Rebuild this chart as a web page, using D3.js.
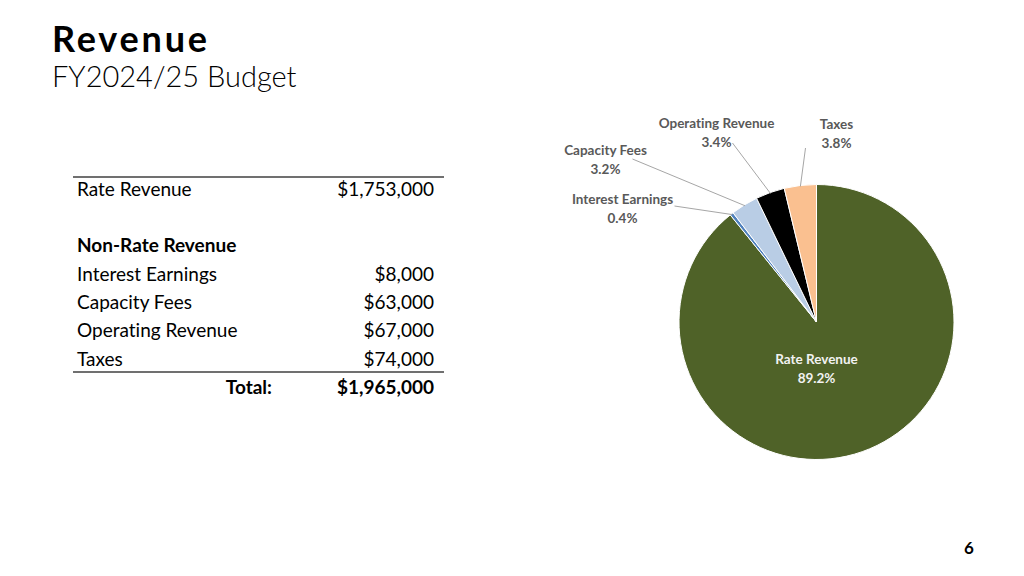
<!DOCTYPE html>
<html>
<head>
<meta charset="utf-8">
<script src="https://cdn.jsdelivr.net/npm/d3@7"></script>
<style>
  body { margin: 0; background: #fff; }
  svg { display: block; }
  text { font-variant-ligatures: none; font-feature-settings: "liga" 0; }
</style>
</head>
<body>
<svg id="chart"></svg>
<script>
// revenue categories in pie order (clockwise from 12 o'clock)
const categories = ["Rate Revenue", "Interest Earnings", "Capacity Fees", "Operating Revenue", "Taxes"];
const amounts = [1753000, 8000, 63000, 67000, 74000];
const colors = ["#4f6228", "#4f81bd", "#b9cde5", "#000000", "#fac090"];

// table rows
const nonRateCategories = ["Interest Earnings", "Capacity Fees", "Operating Revenue", "Taxes"];
const totalAmount = 1965000;

const width = 1024, height = 576;
const fontBody = "Lato, 'Open Sans', sans-serif";

const svg = d3.select("#chart")
    .attr("width", width)
    .attr("height", height);

// title
svg.append("text")
    .attr("x", 52).attr("y", 52)
    .attr("font-family", fontBody)
    .attr("font-weight", 700)
    .attr("font-size", 36)
    .attr("letter-spacing", 2.8)
    .attr("fill", "#000")
    .text("Revenue");

svg.append("text")
    .attr("x", 52).attr("y", 87)
    .attr("font-family", fontBody)
    .attr("font-weight", 300)
    .attr("font-size", 29)
    .attr("fill", "#000")
    .text("FY2024/25 Budget");

// page number
svg.append("text")
    .attr("x", 969).attr("y", 554)
    .attr("text-anchor", "middle")
    .attr("font-family", fontBody)
    .attr("font-weight", 700)
    .attr("font-size", 17)
    .text("6");

// ---- table ----
const fmt = d3.format("$,");
const table = svg.append("g").attr("transform", "translate(73,0)");
const tableWidth = 371;
const labelX = 4, valueX = 361;
const rowH = 28.4;
const fontSize = 19;

table.append("line")
    .attr("x1", 0).attr("x2", tableWidth)
    .attr("y1", 177).attr("y2", 177)
    .attr("stroke", "#404040").attr("stroke-width", 1.5);

const rateIdx = categories.indexOf("Rate Revenue");
table.append("text")
    .attr("x", labelX).attr("y", 196)
    .attr("font-family", fontBody).attr("font-size", fontSize)
    .text(categories[rateIdx]);
table.append("text")
    .attr("x", valueX).attr("y", 196)
    .attr("text-anchor", "end")
    .attr("font-family", fontBody).attr("font-size", fontSize)
    .text(fmt(amounts[rateIdx]));

table.append("text")
    .attr("x", labelX).attr("y", 252)
    .attr("font-family", fontBody).attr("font-size", fontSize)
    .attr("font-weight", 700)
    .text("Non-Rate Revenue");

const rows = table.selectAll("g.row")
    .data(nonRateCategories)
    .join("g")
    .attr("class", "row")
    .attr("transform", (d, i) => `translate(0,${280.5 + i * rowH})`);

rows.append("text")
    .attr("x", labelX)
    .attr("font-family", fontBody).attr("font-size", fontSize)
    .text(d => d);
rows.append("text")
    .attr("x", valueX)
    .attr("text-anchor", "end")
    .attr("font-family", fontBody).attr("font-size", fontSize)
    .text(d => fmt(amounts[categories.indexOf(d)]));

table.append("line")
    .attr("x1", 0).attr("x2", tableWidth)
    .attr("y1", 372).attr("y2", 372)
    .attr("stroke", "#404040").attr("stroke-width", 1.5);

table.append("text")
    .attr("x", 199).attr("y", 394)
    .attr("text-anchor", "end")
    .attr("font-family", fontBody).attr("font-size", fontSize)
    .attr("font-weight", 700)
    .text("Total:");
table.append("text")
    .attr("x", valueX).attr("y", 394)
    .attr("text-anchor", "end")
    .attr("font-family", fontBody).attr("font-size", fontSize)
    .attr("font-weight", 700)
    .text(fmt(totalAmount));

// ---- pie ----
const cx = 816.5, cy = 322, radius = 137.5;
const total = d3.sum(amounts);
const pct = d3.format(".1%");

const pie = d3.pie().sort(null).value(d => d.value);
const arcs = pie(categories.map((c, i) => ({ name: c, value: amounts[i], color: colors[i] })));

const arc = d3.arc().innerRadius(0).outerRadius(radius);
const edgeArc = d3.arc().innerRadius(radius - 1).outerRadius(radius - 1);

const pieG = svg.append("g").attr("transform", `translate(${cx},${cy})`);

pieG.selectAll("path")
    .data(arcs)
    .join("path")
    .attr("d", arc)
    .attr("fill", d => d.data.color)
    .attr("stroke", "#fff")
    .attr("stroke-width", 1);

// label layout: offsets relative to pie centre (label centre, leader-line end)
const labelLayout = {
  "Rate Revenue":      { x: 0,    y: 42,   line: null },
  "Interest Earnings": { x: -194, y: -118, line: [-142, -116] },
  "Capacity Fees":     { x: -211, y: -167, line: [-184, -163] },
  "Operating Revenue": { x: -100, y: -194, line: [-84, -179] },
  "Taxes":             { x: 20,   y: -193, line: [-11, -174] }
};

// leader lines
pieG.selectAll("polyline")
    .data(arcs.filter(d => labelLayout[d.data.name].line))
    .join("polyline")
    .attr("points", d => {
      const s = edgeArc.centroid(d);
      const e = labelLayout[d.data.name].line;
      return [s, e].map(p => p.join(",")).join(" ");
    })
    .attr("fill", "none")
    .attr("stroke", "#a6a6a6")
    .attr("stroke-width", 1);

const labels = pieG.selectAll("text.lbl")
    .data(arcs)
    .join("text")
    .attr("class", "lbl")
    .attr("text-anchor", "middle")
    .attr("font-family", fontBody)
    .attr("font-weight", 700)
    .attr("font-size", 13.5)
    .attr("fill", d => d.data.name === "Rate Revenue" ? "#f2f2f2" : "#595959")
    .attr("transform", d => `translate(${labelLayout[d.data.name].x},${labelLayout[d.data.name].y})`);

labels.append("tspan")
    .attr("x", 0).attr("dy", 0)
    .text(d => d.data.name);
labels.append("tspan")
    .attr("x", 0).attr("dy", 18.5)
    .text(d => pct(d.data.value / total));
</script>
</body>
</html>
